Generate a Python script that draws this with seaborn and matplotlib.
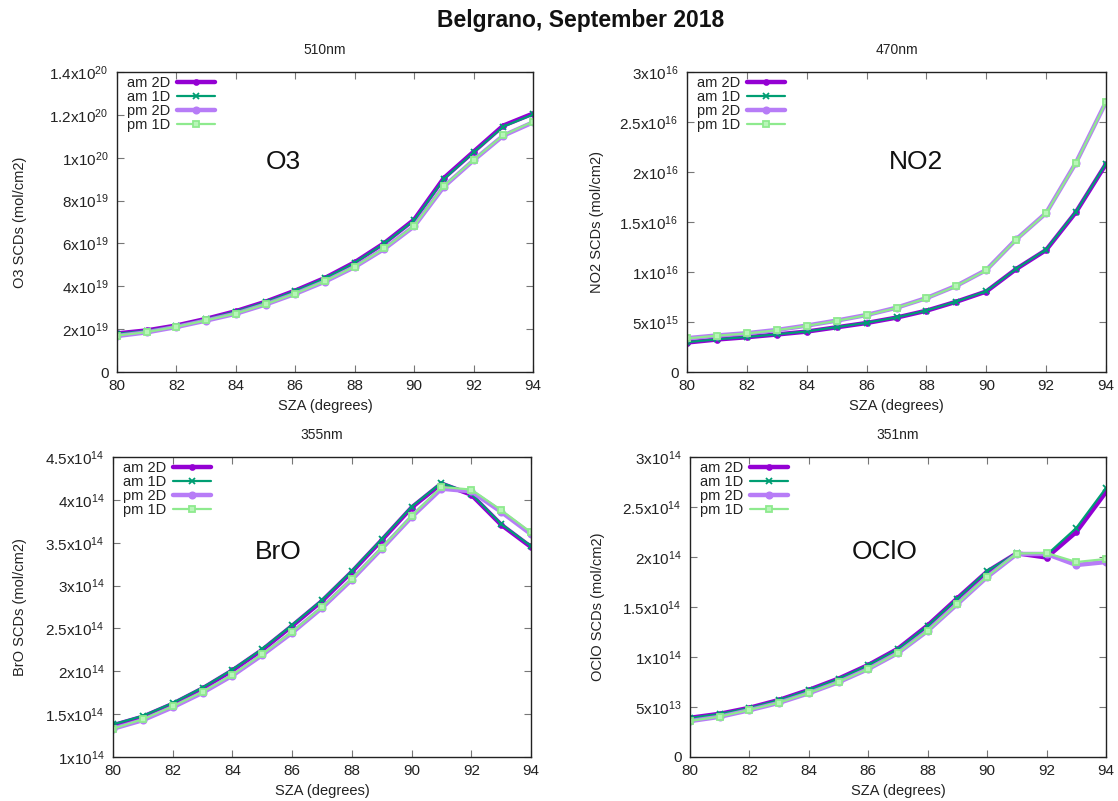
import numpy as np
import pandas as pd
import matplotlib
matplotlib.use("Agg")
import matplotlib.pyplot as plt
import seaborn as sns
from matplotlib.ticker import MultipleLocator, FuncFormatter

sns.set_theme(style="ticks")
plt.rcParams['font.family'] = ['Liberation Sans', 'DejaVu Sans']
plt.rcParams['mathtext.default'] = 'regular'

# ---------------- data ----------------
sza = [80, 81, 82, 83, 84, 85, 86, 87, 88, 89, 90, 91, 92, 93, 94]
series_names = ["am 2D", "am 1D", "pm 2D", "pm 1D"]

o3_am2d = [1.80e19, 1.94e19, 2.17e19, 2.48e19, 2.84e19, 3.28e19, 3.80e19, 4.39e19, 5.12e19, 6.02e19, 7.11e19, 9.05e19, 10.28e19, 11.50e19, 12.06e19]
o3_am1d = [1.78e19, 1.92e19, 2.15e19, 2.46e19, 2.82e19, 3.26e19, 3.78e19, 4.37e19, 5.10e19, 6.00e19, 7.08e19, 9.00e19, 10.25e19, 11.45e19, 12.02e19]
o3_pm2d = [1.68e19, 1.85e19, 2.10e19, 2.40e19, 2.72e19, 3.15e19, 3.65e19, 4.22e19, 4.90e19, 5.75e19, 6.80e19, 8.65e19, 9.88e19, 11.03e19, 11.65e19]
o3_pm1d = [1.70e19, 1.86e19, 2.11e19, 2.41e19, 2.73e19, 3.16e19, 3.66e19, 4.24e19, 4.92e19, 5.77e19, 6.82e19, 8.68e19, 9.90e19, 11.05e19, 11.68e19]

no2_am2d = [2.95e15, 3.25e15, 3.48e15, 3.75e15, 4.04e15, 4.47e15, 4.90e15, 5.44e15, 6.13e15, 7.03e15, 8.05e15, 10.30e15, 12.20e15, 16.00e15, 20.80e15]
no2_am1d = [2.98e15, 3.27e15, 3.50e15, 3.77e15, 4.06e15, 4.49e15, 4.92e15, 5.46e15, 6.15e15, 7.05e15, 8.08e15, 10.32e15, 12.25e15, 16.05e15, 20.85e15]
no2_pm2d = [3.38e15, 3.65e15, 3.88e15, 4.20e15, 4.64e15, 5.14e15, 5.70e15, 6.43e15, 7.39e15, 8.62e15, 10.20e15, 13.26e15, 15.90e15, 20.95e15, 27.00e15]
no2_pm1d = [3.36e15, 3.63e15, 3.86e15, 4.18e15, 4.62e15, 5.12e15, 5.68e15, 6.41e15, 7.37e15, 8.60e15, 10.18e15, 13.24e15, 15.88e15, 20.93e15, 26.98e15]

bro_am2d = [1.37e14, 1.47e14, 1.62e14, 1.80e14, 2.01e14, 2.25e14, 2.53e14, 2.82e14, 3.16e14, 3.53e14, 3.91e14, 4.19e14, 4.06e14, 3.71e14, 3.45e14]
bro_am1d = [1.38e14, 1.48e14, 1.63e14, 1.81e14, 2.02e14, 2.26e14, 2.54e14, 2.83e14, 3.17e14, 3.54e14, 3.92e14, 4.20e14, 4.07e14, 3.72e14, 3.46e14]
bro_pm2d = [1.33e14, 1.43e14, 1.58e14, 1.75e14, 1.95e14, 2.19e14, 2.45e14, 2.74e14, 3.07e14, 3.43e14, 3.80e14, 4.13e14, 4.10e14, 3.86e14, 3.60e14]
bro_pm1d = [1.33e14, 1.44e14, 1.59e14, 1.76e14, 1.96e14, 2.20e14, 2.46e14, 2.75e14, 3.08e14, 3.44e14, 3.81e14, 4.15e14, 4.12e14, 3.88e14, 3.62e14]

oclo_am2d = [3.92e13, 4.32e13, 4.92e13, 5.71e13, 6.71e13, 7.84e13, 9.20e13, 10.83e13, 13.16e13, 15.88e13, 18.54e13, 20.37e13, 19.95e13, 22.50e13, 26.50e13]
oclo_am1d = [3.90e13, 4.30e13, 4.90e13, 5.69e13, 6.69e13, 7.82e13, 9.18e13, 10.80e13, 13.12e13, 15.85e13, 18.60e13, 20.40e13, 20.20e13, 22.90e13, 26.90e13]
oclo_pm2d = [3.59e13, 4.02e13, 4.68e13, 5.42e13, 6.38e13, 7.48e13, 8.80e13, 10.40e13, 12.62e13, 15.30e13, 18.00e13, 20.30e13, 20.30e13, 19.20e13, 19.50e13]
oclo_pm1d = [3.60e13, 4.04e13, 4.70e13, 5.44e13, 6.40e13, 7.50e13, 8.82e13, 10.42e13, 12.65e13, 15.33e13, 18.05e13, 20.35e13, 20.40e13, 19.50e13, 19.80e13]

panel_titles = ["510nm", "470nm", "355nm", "351nm"]
species = ["O3", "NO2", "BrO", "OClO"]
ylabels = ["O3 SCDs (mol/cm2)", "NO2 SCDs (mol/cm2)", "BrO SCDs (mol/cm2)", "OClO SCDs (mol/cm2)"]
panel_data = [
    [o3_am2d, o3_am1d, o3_pm2d, o3_pm1d],
    [no2_am2d, no2_am1d, no2_pm2d, no2_pm1d],
    [bro_am2d, bro_am1d, bro_pm2d, bro_pm1d],
    [oclo_am2d, oclo_am1d, oclo_pm2d, oclo_pm1d],
]
ylims = [(0, 1.4e20), (0, 3e16), (1e14, 4.5e14), (0, 3e14)]
ysteps = [2e19, 5e15, 5e13, 5e13]

# ---------------- styling ----------------
colors = ["#9400D3", "#009E73", "#B77CF7", "#8EEA8E"]
lws = [3.2, 1.6, 3.2, 1.6]
markers = ["o", "x", "o", "s"]
msizes = [3.5, 4.5, 4.5, 5]
mfcs = ["#9400D3", "#009E73", "#B77CF7", "#B8F5B8"]

axes_rects = [
    [117/1118, 1-372/801, 416/1118, 300/801],
    [687/1118, 1-372/801, 419/1118, 300/801],
    [113/1118, 1-757/801, 418/1118, 300/801],
    [690/1118, 1-757/801, 416/1118, 300/801],
]
label_pos = [(0.40, 0.70), (0.547, 0.70), (0.395, 0.684), (0.468, 0.684)]
ylab_x = [-0.216, -0.198, -0.205, -0.205]


def sci_fmt(v, pos):
    if abs(v) < 1e-30:
        return "0"
    e = int(np.floor(np.log10(abs(v)) + 1e-9))
    m = v / 10**e
    ms = ("%.1f" % m).rstrip("0").rstrip(".")
    return ms + r"x10$^{%d}$" % e


fig = plt.figure(figsize=(11.18, 8.01), dpi=100)
fig.patch.set_facecolor("white")

for i in range(4):
    ax = fig.add_axes(axes_rects[i])
    ax.set_facecolor("white")
    df = pd.DataFrame({"sza": sza * 4,
                       "val": sum(panel_data[i], []),
                       "series": sum([[n] * len(sza) for n in series_names], [])})
    for j, name in enumerate(series_names):
        sub = df[df["series"] == name]
        sns.lineplot(data=sub, x="sza", y="val", ax=ax, color=colors[j],
                     lw=lws[j], marker=markers[j], markersize=msizes[j],
                     markerfacecolor=mfcs[j], markeredgecolor=colors[j],
                     markeredgewidth=1.3, label=name, sort=False)
    ax.set_xlim(80, 94)
    ax.set_ylim(*ylims[i])
    ax.xaxis.set_major_locator(MultipleLocator(2))
    ax.yaxis.set_major_locator(MultipleLocator(ysteps[i]))
    ax.yaxis.set_major_formatter(FuncFormatter(sci_fmt))
    ax.tick_params(direction="in", top=True, right=True, length=5, width=0.8,
                   color="#777777", labelsize=11, labelcolor="#222222")
    ax.tick_params(axis="y", pad=6)
    ax.tick_params(axis="x", pad=5)
    for sp in ax.spines.values():
        sp.set_color("#222222")
        sp.set_linewidth(1.0)
    ax.set_xlabel("SZA (degrees)", fontsize=10.5, color="#222222")
    ax.xaxis.set_label_coords(0.5, -0.09)
    ax.set_ylabel(ylabels[i], fontsize=10.5, color="#222222")
    ax.yaxis.set_label_coords(ylab_x[i], 0.5)
    ax.set_title(panel_titles[i], fontsize=10, color="#222222", pad=13)
    ax.text(label_pos[i][0], label_pos[i][1], species[i], transform=ax.transAxes,
            fontsize=19, ha="center", va="center", color="#111111")
    leg = ax.legend(loc="upper left", bbox_to_anchor=(0.015, 1.0), frameon=False,
                    markerfirst=False, fontsize=10.5, handlelength=2.6,
                    handletextpad=0.5, labelspacing=0.0, borderpad=0.25,
                    borderaxespad=0.0)
    for t in leg.get_texts():
        t.set_color("#222222")

fig.text(0.519, 1 - 21/801, "Belgrano, September 2018", ha="center", va="center",
         fontsize=16.5, fontweight="bold", color="#111111",
         family=["Liberation Sans Narrow", "Liberation Sans", "DejaVu Sans"])

fig.savefig("out.png", dpi=100, facecolor="white")
